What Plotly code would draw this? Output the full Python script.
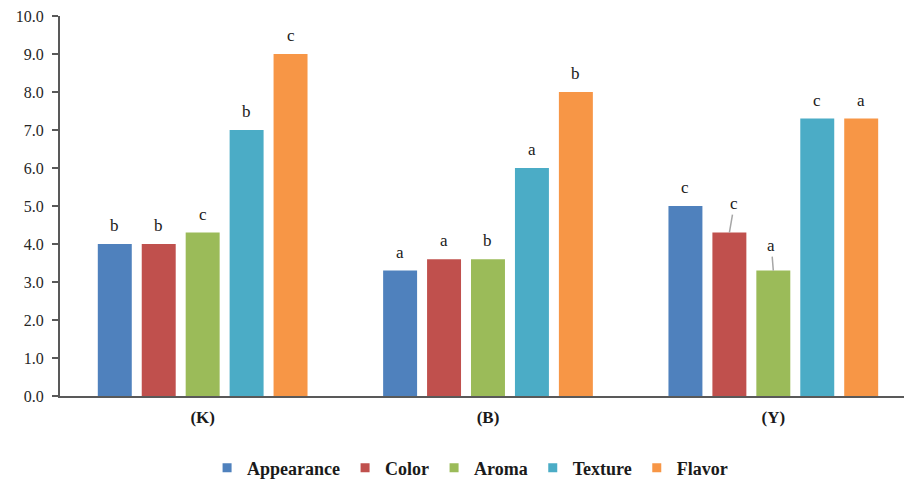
import plotly.graph_objects as go

categories = ["(K)", "(B)", "(Y)"]
series_names = ["Appearance", "Color", "Aroma", "Texture", "Flavor"]
appearance = [4.0, 3.3, 5.0]
color = [4.0, 3.6, 4.3]
aroma = [4.3, 3.6, 3.3]
texture = [7.0, 6.0, 7.3]
flavor = [9.0, 8.0, 7.3]
letters_appearance = ["b", "a", "c"]
letters_color = ["b", "a", "c"]
letters_aroma = ["c", "b", "a"]
letters_texture = ["b", "a", "c"]
letters_flavor = ["c", "b", "a"]
y_tick_values = [0, 1, 2, 3, 4, 5, 6, 7, 8, 9, 10]
y_tick_labels = ["0.0", "1.0", "2.0", "3.0", "4.0", "5.0", "6.0", "7.0", "8.0", "9.0", "10.0"]

colors = ["#4F81BD", "#C0504D", "#9BBB59", "#4BACC6", "#F79646"]
values = [appearance, color, aroma, texture, flavor]
letters = [letters_appearance, letters_color, letters_aroma, letters_texture, letters_flavor]

FONT = "Liberation Serif"
BARGAP = 0.23
BARGROUPGAP = 0.227

fig = go.Figure()
for name, vals, col in zip(series_names, values, colors):
    fig.add_trace(go.Bar(
        x=categories, y=vals, name=name, marker=dict(color=col, line=dict(width=0)),
        showlegend=False, hoverinfo="skip",
    ))
# legend entries with small square swatches
for name, col in zip(series_names, colors):
    fig.add_trace(go.Scatter(
        x=[None], y=[None], mode="markers", name=name,
        marker=dict(symbol="square", size=9, color=col), showlegend=True,
    ))

n = len(series_names)
slot = (1 - BARGAP) / n
leaders = {(1, 2): (5, -29), (2, 2): (-2, -25)}
annotations = []
for i in range(n):
    off = -(1 - BARGAP) / 2 + slot * (i + 0.5)
    for j, cat in enumerate(categories):
        xpos = j + off
        if (i, j) in leaders:
            ax, ay = leaders[(i, j)]
            annotations.append(dict(
                x=xpos, y=values[i][j], xref="x", yref="y", text=letters[i][j],
                showarrow=True, arrowhead=0, arrowwidth=1.5, arrowcolor="#A6A6A6",
                ax=ax, ay=ay, standoff=0, startstandoff=0,
                font=dict(family=FONT, size=17, color="#1a1a1a"),
            ))
        else:
            annotations.append(dict(
                x=xpos, y=values[i][j], xref="x", yref="y", text=letters[i][j],
                showarrow=False, yanchor="bottom", yshift=7,
                font=dict(family=FONT, size=17, color="#1a1a1a"),
            ))

fig.update_layout(
    width=904, height=481,
    margin=dict(l=60, r=0, t=16, b=85),
    paper_bgcolor="white", plot_bgcolor="white",
    barmode="group", bargap=BARGAP, bargroupgap=BARGROUPGAP,
    font=dict(family=FONT, size=14, color="#262626"),
    annotations=annotations,
    legend=dict(
        orientation="h", xref="container", x=0.52, xanchor="center",
        yref="container", y=0.027, yanchor="middle",
        font=dict(family=FONT, size=18, color="#1a1a1a", weight="bold"),
        bgcolor="rgba(0,0,0,0)",
    ),
    xaxis=dict(
        type="category", range=[-0.5, 2.458],
        showline=True, linecolor="#595959", linewidth=2,
        showgrid=False, zeroline=False, ticks="",
        tickfont=dict(family=FONT, size=17, color="#1a1a1a", weight="bold"),
        ticklabelstandoff=5,
    ),
    yaxis=dict(
        range=[0, 10], tickvals=y_tick_values, ticktext=y_tick_labels,
        showline=True, linecolor="#595959", linewidth=2,
        showgrid=False, zeroline=False,
        ticks="outside", ticklen=6, tickwidth=1.5, tickcolor="#595959",
        tickfont=dict(family=FONT, size=16, color="#262626"),
        ticklabelstandoff=5,
    ),
)

fig.write_html("out.html", config={"displayModeBar": False},
               post_script="document.body.style.margin='0';")
